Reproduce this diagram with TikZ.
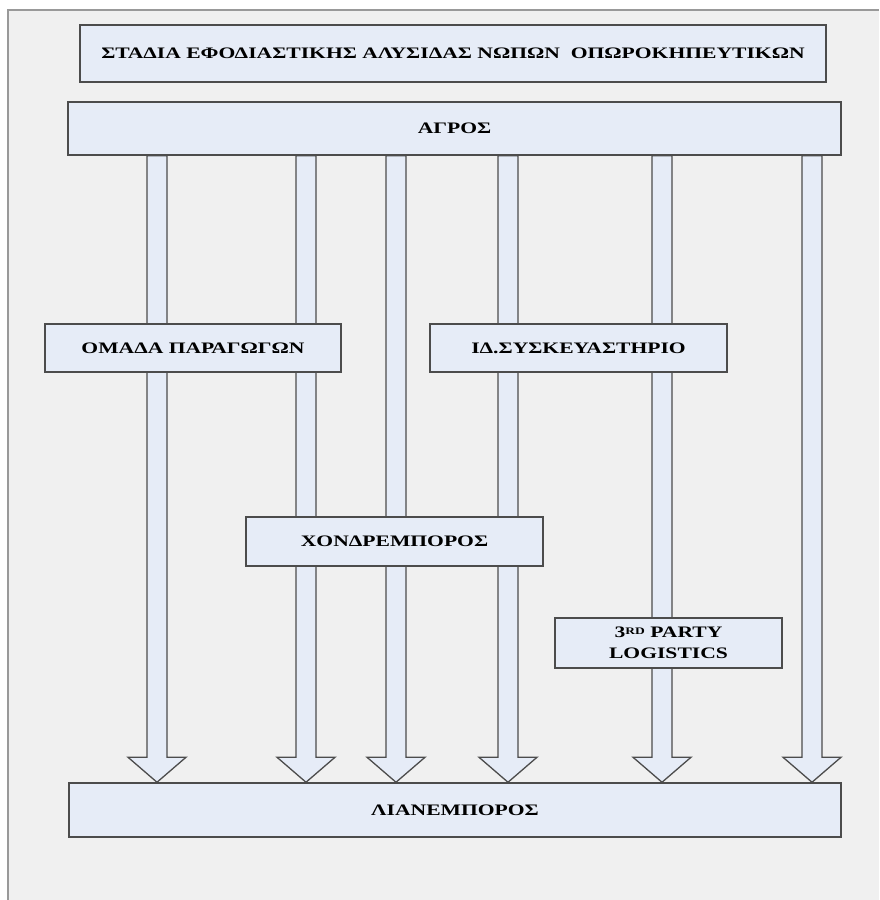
\documentclass[tikz,border=0pt]{standalone}
\usepackage{fontspec}
\setmainfont{Liberation Serif}[FakeStretch=1.35]
\usetikzlibrary{calc, positioning}

\definecolor{boxfill}{HTML}{E6ECF7}
\definecolor{pagebg}{HTML}{F0F0F0}

\pgfdeclarelayer{bg}
\pgfdeclarelayer{arr}
\pgfsetlayers{bg,arr,main}

\tikzset{
  stage/.style={rectangle, draw=black!70, line width=1.5pt, fill=boxfill,
                inner sep=0pt, align=center, font=\bfseries\fontsize{16}{21}\selectfont},
  fat/.style={draw=black!70, line width=1.3pt, fill=boxfill, line join=miter}
}

\begin{document}
\begin{tikzpicture}[x=1pt, y=-1pt]
\useasboundingbox (0,0) rectangle (879,900);
\begin{pgfonlayer}{bg}
  \fill[pagebg] (8,10) rectangle (879,900);
  \draw[black!40, line width=1.5pt] (8,900) |- (879,10);
\end{pgfonlayer}

\node[stage, minimum width=746, minimum height=57] (T) at (453,53.5)
  {ΣΤΑΔΙΑ ΕΦΟΔΙΑΣΤΙΚΗΣ ΑΛΥΣΙΔΑΣ ΝΩΠΩΝ\ \ ΟΠΩΡΟΚΗΠΕΥΤΙΚΩΝ};
\node[stage, minimum width=773, minimum height=53] (F) at (454.5,128.5) {ΑΓΡΟΣ};
\node[stage, minimum width=296, minimum height=48] (P) at (193,348) {ΟΜΑΔΑ ΠΑΡΑΓΩΓΩΝ};
\node[stage, minimum width=297, minimum height=48] (S) at (578.5,348) {ΙΔ.ΣΥΣΚΕΥΑΣΤΗΡΙΟ};
\node[stage, minimum width=297, minimum height=49] (W) at (394.5,541.5) {ΧΟΝΔΡΕΜΠΟΡΟΣ};
\node[stage, minimum width=227, minimum height=50] (L) at (668.5,643)
  {3\raisebox{0.5ex}{\fontsize{10}{10}\selectfont RD} PARTY\\LOGISTICS};
\node[stage, minimum width=772, minimum height=54] (R) at (455,810) {ΛΙΑΝΕΜΠΟΡΟΣ};

% supply flows, farm to retailer
\begin{pgfonlayer}{arr}
\foreach \x in {157,306,396,508,662,812}{
  \coordinate (a) at (\x,0);
  \path (F.south -| a) coordinate (s) (R.north -| a) coordinate (e);
  \draw[fat] ($(s)+(-10,0)$) -- ($(e)+(-10,-25)$) -- ($(e)+(-29,-25)$) -- (e)
     -- ($(e)+(29,-25)$) -- ($(e)+(10,-25)$) -- ($(s)+(10,0)$) -- cycle;
}
\end{pgfonlayer}
\end{tikzpicture}
\end{document}
